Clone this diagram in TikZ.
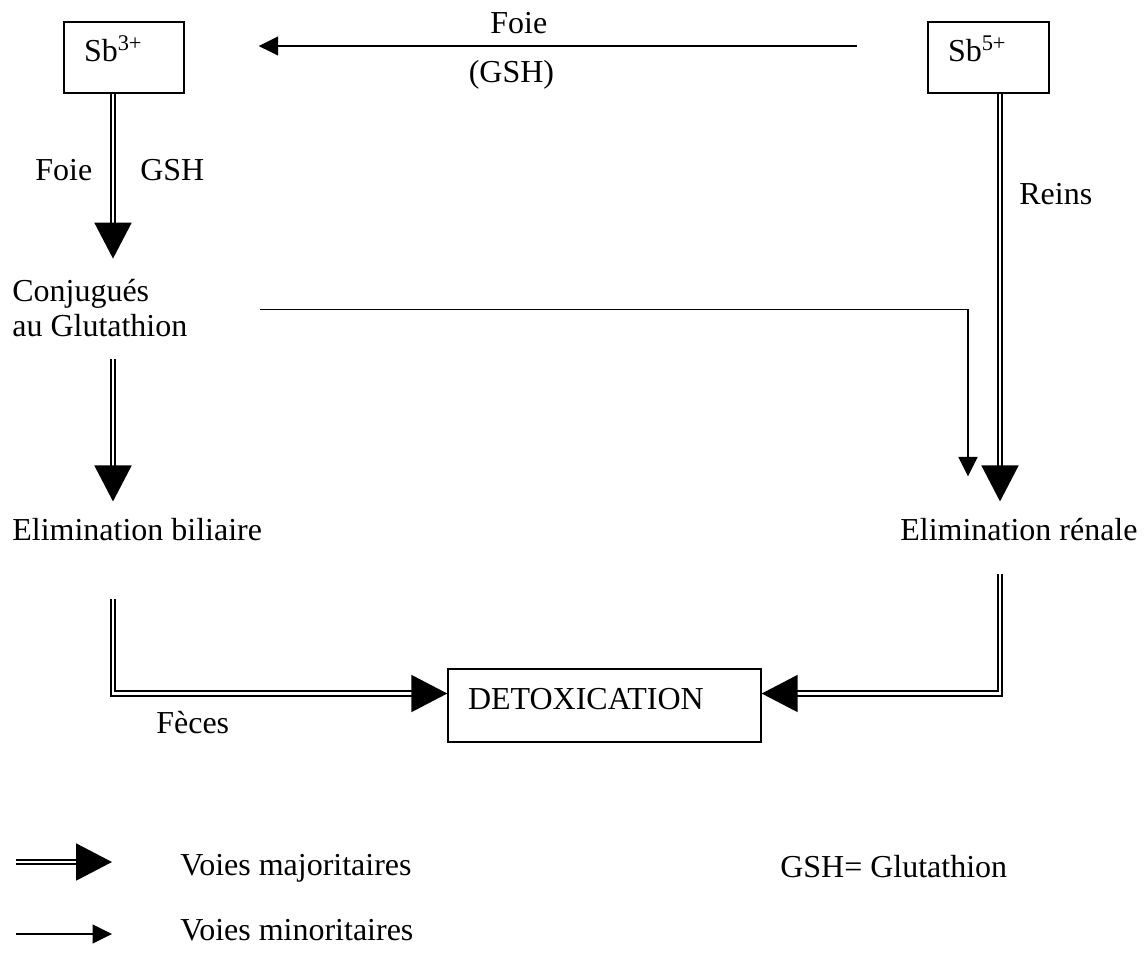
\documentclass[tikz,border=0pt]{standalone}
\usepackage{fontspec}
\setmainfont{Liberation Serif}
\usetikzlibrary{arrows.meta, positioning}
\colorlet{colLinea}{black}
\colorlet{colTexto}{black}
\tikzset{
  etiqueta/.style={font=\fontsize{18.2}{19.8}\selectfont, text=colTexto,
    inner sep=0pt, align=left},
  cajaSb/.style={etiqueta, draw=colLinea, line width=0.8pt,
    inner xsep=0.4cm, inner ysep=0pt, text height=0.5cm, text depth=0.34cm},
  flechaMayor/.style={-{Triangle[length=0.72cm, width=0.74cm]}, colLinea,
    double, double distance=1.5pt, line width=1.05pt},
  flechaMenor/.style={-{Triangle[length=0.39cm, width=0.38cm]}, colLinea,
    line width=0.8pt},
}

\begin{document}
\begin{tikzpicture}
    \useasboundingbox (0,0) rectangle (22.92,-19.04);
    % ejes verticales de las flechas
    \coordinate (ejeIzq) at (2.26,0);
    \coordinate (ejeDer) at (20.0,0);
    \coordinate (ejeMenor) at (19.36,0);

    \node[cajaSb, text width=1.6cm, minimum height=1.42cm] (sb3) at (2.48,-1.15) {Sb\textsuperscript{3+}};
    \node[cajaSb, text width=1.62cm, minimum height=1.42cm] (sb5) at (19.77,-1.15) {Sb\textsuperscript{5+}};
    \node[etiqueta, anchor=base west] (conj) at (0.24,-6.72) {Conjugués\\au Glutathion};
    \node[etiqueta, anchor=base west] (elimB) at (0.24,-10.8) {Elimination biliaire};
    \node[etiqueta, anchor=base west] (elimR) at (18.0,-10.8) {Elimination rénale};
    \node[cajaSb, text width=5.46cm, minimum height=1.46cm] (detox) at (12.09,-14.11) {DETOXICATION};

    \node[etiqueta, anchor=base west] (foieIzq) at (0.70,-3.6) {Foie};
    \node[etiqueta, anchor=base west] (gshIzq) at (2.80,-3.6) {GSH};
    \node[etiqueta, anchor=base west] (reins) at (20.38,-4.08) {Reins};
    \node[etiqueta, anchor=base west] (feces) at (3.12,-14.66) {Fèces};

    \draw[flechaMenor, shorten <=1.4cm, shorten >=1.48cm] ([yshift=0.23cm]sb5.west) -- ([yshift=0.23cm]sb3.east)
      node[pos=0.55, above=0.22cm, etiqueta]{Foie} node[pos=0.56, below=0.27cm, etiqueta]{(GSH)};
    \draw[flechaMayor, shorten >=0.4cm] (sb3.south -| ejeIzq) -- (conj.north -| ejeIzq);
    \draw[flechaMayor, shorten <=0.44cm, shorten >=0.32cm] (conj.south -| ejeIzq) -- (elimB.north -| ejeIzq);
    \draw[flechaMayor, shorten >=0.32cm] (sb5.south -| ejeDer) -- (elimR.north -| ejeDer);
    \draw[flechaMenor, shorten >=0.82cm] ([xshift=1.44cm, yshift=-0.04cm]conj.east) -| (elimR.north -| ejeMenor);
    \draw[flechaMayor, shorten <=1.16cm] (elimB.south -| ejeIzq) |- ([yshift=0.24cm]detox.west);
    \draw[flechaMayor, shorten <=0.66cm] (elimR.south -| ejeDer) |- ([yshift=0.24cm]detox.east);

    % leyenda
    \coordinate (leyMayA) at (0.32,-17.24);
    \coordinate (leyMayB) at (2.24,-17.24);
    \coordinate (leyMenA) at (0.32,-18.68);
    \coordinate (leyMenB) at (2.24,-18.68);
    \draw[flechaMayor] (leyMayA) -- (leyMayB);
    \draw[flechaMenor] (leyMenA) -- (leyMenB);
    \node[etiqueta, anchor=base west] (voiesMay) at (3.6,-17.5) {Voies majoritaires};
    \node[etiqueta, anchor=base west] (voiesMen) at (3.6,-18.8) {Voies minoritaires};
    \node[etiqueta, anchor=base west] (gshDef) at (15.6,-17.54) {GSH= Glutathion};
  \end{tikzpicture}
\end{document}
